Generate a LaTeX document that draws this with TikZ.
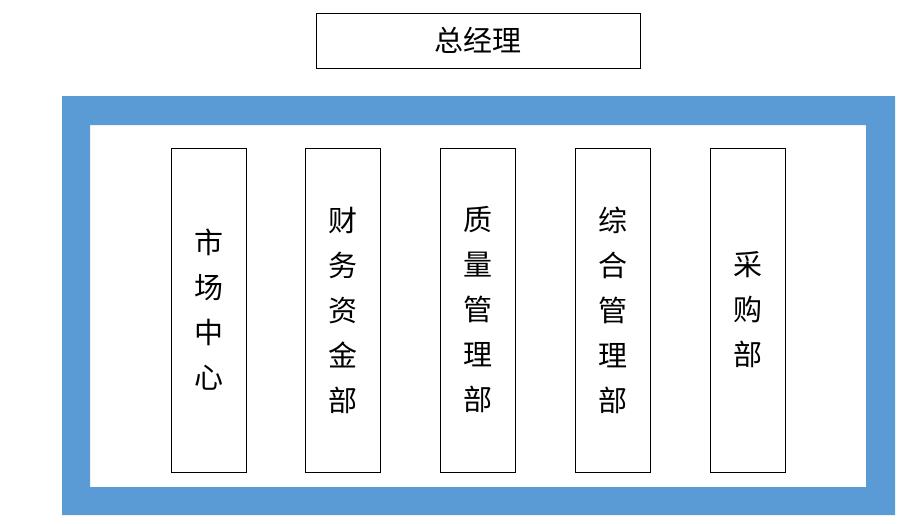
\documentclass[tikz,border=0pt]{standalone}
\usepackage{fontspec}
\newfontfamily\cjk{Noto Sans CJK SC}
\definecolor{FrameBlue}{HTML}{5B9BD5}
\tikzset{
	deptbox/.style={draw,thin,minimum width=75pt,minimum height=324pt,align=center,
		font=\cjk\fontsize{29}{45}\selectfont,inner sep=0pt},
	headbox/.style={draw,thin,minimum width=324pt,minimum height=55pt,
		font=\cjk\fontsize{29}{34}\selectfont}
}
\begin{document}
\begin{tikzpicture}[x=1pt,y=-1pt]
	\useasboundingbox (0,0) rectangle (920,523);
	
	\node[headbox] (gm) at (478,40.5) {总经理};
	
	\fill[FrameBlue,even odd rule] (62,96) rectangle (895,515) (90,125) rectangle (866,487);
	
	\node[deptbox] (market) at (208.5,310) {市\\场\\中\\心};
	\node[deptbox] (finance) at (342.5,310) {财\\务\\资\\金\\部};
	\node[deptbox] (quality) at (477.5,310) {质\\量\\管\\理\\部};
	\node[deptbox] (admin) at (612.5,310) {综\\合\\管\\理\\部};
	\node[deptbox] (purchase) at (747.5,310) {采\\购\\部};
\end{tikzpicture}
\end{document}
